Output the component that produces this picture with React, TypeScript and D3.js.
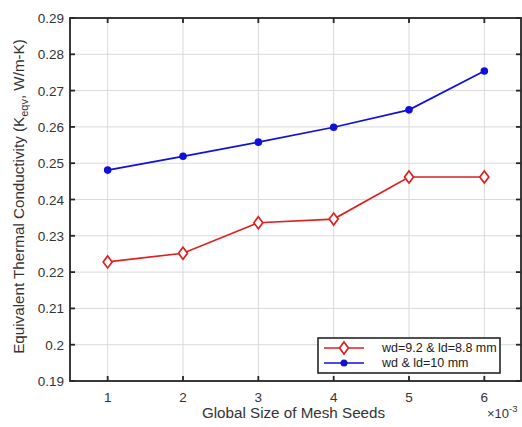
import React from 'react';
import * as d3 from 'd3';

// chart data
const meshSeeds = [1, 2, 3, 4, 5, 6];
const seriesRed = [0.2228, 0.2252, 0.2336, 0.2346, 0.2462, 0.2462];
const seriesBlue = [0.2481, 0.2519, 0.2558, 0.2599, 0.2647, 0.2754];
const yTicks = [0.19, 0.2, 0.21, 0.22, 0.23, 0.24, 0.25, 0.26, 0.27, 0.28, 0.29];
const legendLabels = ['wd=9.2 & ld=8.8 mm', 'wd & ld=10 mm'];

const W = 522;
const H = 427;
const margin = { left: 70, right: 0, top: 18, bottom: 46 };
const font = 'Liberation Sans, Arial, Helvetica, sans-serif';
const axisColor = '#262626';
const red = '#dd2020';
const blue = '#1010d8';

export default function App() {
  const x = d3.scaleLinear().domain([0.5, 6.5]).range([margin.left, W - margin.right]);
  const y = d3.scaleLinear().domain([0.19, 0.29]).range([H - margin.bottom, margin.top]);
  const line = d3
    .line<number>()
    .x((_, i) => x(meshSeeds[i]))
    .y((d) => y(d));

  const x0 = x.range()[0];
  const x1 = x.range()[1] - 1;
  const y0 = y.range()[0];
  const y1 = y.range()[1];
  const tick = 5;

  const diamond = (cx: number, cy: number, r: number) =>
    `M${cx},${cy - r}L${cx + r * 0.75},${cy}L${cx},${cy + r}L${cx - r * 0.75},${cy}Z`;

  const legX = 318;
  const legY = 338;

  return (
    <svg width={W} height={H} style={{ position: 'absolute', left: 0, top: 0, background: '#fff' }}>
      <rect x={0} y={0} width={W} height={H} fill="#fff" />
      {/* grid */}
      <g stroke="#d9d9d9" strokeWidth={1}>
        {meshSeeds.map((d) => (
          <line key={'gx' + d} x1={x(d)} x2={x(d)} y1={y0} y2={y1} />
        ))}
        {yTicks.map((d) => (
          <line key={'gy' + d} x1={x0} x2={x1} y1={y(d)} y2={y(d)} />
        ))}
      </g>
      {/* series */}
      <path d={line(seriesRed) || ''} fill="none" stroke={red} strokeWidth={1.7} />
      {seriesRed.map((d, i) => (
        <path key={'r' + i} d={diamond(x(meshSeeds[i]), y(d), 6)} fill="#fff" stroke={red} strokeWidth={1.7} />
      ))}
      <path d={line(seriesBlue) || ''} fill="none" stroke={blue} strokeWidth={1.7} />
      {seriesBlue.map((d, i) => (
        <circle key={'b' + i} cx={x(meshSeeds[i])} cy={y(d)} r={3.8} fill={blue} />
      ))}
      {/* axes box with inward ticks */}
      <rect x={x0} y={y1} width={x1 - x0} height={y0 - y1} fill="none" stroke={axisColor} strokeWidth={1.8} />
      <g stroke={axisColor} strokeWidth={1.8}>
        {meshSeeds.map((d) => (
          <g key={'tx' + d}>
            <line x1={x(d)} x2={x(d)} y1={y0} y2={y0 - tick} />
            <line x1={x(d)} x2={x(d)} y1={y1} y2={y1 + tick} />
          </g>
        ))}
        {yTicks.map((d) => (
          <g key={'ty' + d}>
            <line x1={x0} x2={x0 + tick} y1={y(d)} y2={y(d)} />
            <line x1={x1} x2={x1 - tick} y1={y(d)} y2={y(d)} />
          </g>
        ))}
      </g>
      {/* tick labels */}
      <g fontFamily={font} fontSize={13.5} fill="#333">
        {meshSeeds.map((d) => (
          <text key={'lx' + d} x={x(d)} y={y0 + 21} textAnchor="middle">
            {d}
          </text>
        ))}
        {yTicks.map((d) => (
          <text key={'ly' + d} x={x0 - 6} y={y(d) + 5} textAnchor="end">
            {d === 0.2 ? '0.2' : d.toFixed(2)}
          </text>
        ))}
      </g>
      {/* axis labels */}
      <text x={(x0 + x1) / 2 - 2} y={y0 + 37} textAnchor="middle" fontFamily={font} fontSize={15.2} fill="#333">
        Global Size of Mesh Seeds
      </text>
      <text x={487} y={y0 + 37} fontFamily={font} fontSize={13} fill="#333">
        ×10<tspan dy={-6} fontSize={9.5}>-3</tspan>
      </text>
      <text
        transform={`translate(24,${(y0 + y1) / 2 - 3}) rotate(-90)`}
        textAnchor="middle"
        fontFamily={font}
        fontSize={15.2}
        fill="#333"
      >
        Equivalent Thermal Conductivity (K<tspan dy={4} fontSize={11}>eqv</tspan>
        <tspan dy={-4}>, W/m-K)</tspan>
      </text>
      {/* legend */}
      <rect x={legX} y={legY} width={182} height={35} fill="#fff" stroke={axisColor} strokeWidth={1.6} />
      <line x1={legX + 6} x2={legX + 46} y1={legY + 10} y2={legY + 10} stroke={red} strokeWidth={1.7} />
      <path d={diamond(legX + 26, legY + 10, 6)} fill="#fff" stroke={red} strokeWidth={1.7} />
      <line x1={legX + 6} x2={legX + 46} y1={legY + 25} y2={legY + 25} stroke={blue} strokeWidth={1.7} />
      <circle cx={legX + 26} cy={legY + 25} r={3.5} fill={blue} />
      <g fontFamily={font} fontSize={12.5} fill="#222">
        <text x={legX + 64} y={legY + 14}>
          {legendLabels[0]}
        </text>
        <text x={legX + 64} y={legY + 29}>
          {legendLabels[1]}
        </text>
      </g>
    </svg>
  );
}
